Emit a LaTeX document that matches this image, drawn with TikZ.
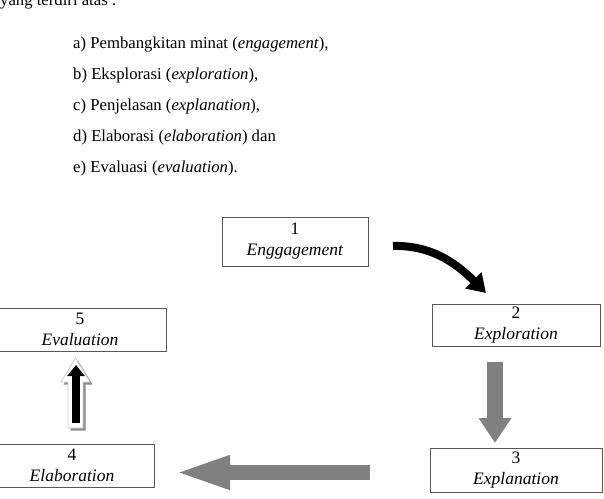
\documentclass[tikz,border=0pt]{standalone}
\usepackage{fontspec}
\setmainfont{Liberation Serif}
\usetikzlibrary{arrows.meta}
\begin{document}
\begin{tikzpicture}[x=1pt, y=-1pt, line join=miter,
	langkah/.style={draw=black!65, line width=0.9pt, fill=white, align=center, inner sep=0pt, font=\fontsize{17.5}{21}\selectfont},
	teks/.style={anchor=base west, inner sep=0pt, font=\fontsize{16.7}{19}\selectfont},
	panahabu/.style={black!50, line width=#1}]
	\useasboundingbox (0,0) rectangle (604,498);
	\clip (0,0) rectangle (604,498);
	\node[teks] (judul) at (0,5) {yang terdiri atas :};
	\foreach \isi [count=\i from 0] in {{a) Pembangkitan minat (\textit{engagement}),},
		{b) Eksplorasi (\textit{exploration}),},
		{c) Penjelasan (\textit{explanation}),},
		{d) Elaborasi (\textit{elaboration}) dan},
		{e) Evaluasi (\textit{evaluation}).}}
	\node[teks] (item\i) at (73,48+31*\i) {\isi};
	% kotak tahapan
	\node[langkah, minimum width=146, minimum height=49] (engage) at (295,241.5) {1\\\textit{Enggagement}};
	\node[langkah, minimum width=168, minimum height=42] (explore) at (516,325) {2\\\textit{Exploration}};
	\node[langkah, minimum width=172, minimum height=44] (explain) at (516,470) {3\\\textit{Explanation}};
	\node[langkah, minimum width=164, minimum height=43] (elab) at (72,465.5) {4\\\textit{Elaboration}};
	\node[langkah, minimum width=172, minimum height=43] (eval) at (80,329.5) {5\\\textit{Evaluation}};
	% panah
	\coordinate (p1a) at (393,246);
	\coordinate (p1b) at (486,293);
	\draw[line width=8, -{Triangle[width=22,length=18]}] (p1a) .. controls (430,245) and (455,262) .. (p1b);
	\coordinate (p2a) at (495,362);
	\coordinate (p2b) at (495,443);
	\draw[panahabu=16, -{Triangle[width=31,length=25]}] (p2a) -- (p2b);
	\coordinate (p3a) at (370,472.5);
	\coordinate (p3b) at (173,472.5);
	\draw[panahabu=15, -{Triangle[width=30,length=57]}] (p3a) -- (p3b);
	\fill[black!45, shift={(2.5,2.5)}] (68,428) -- (83,428) -- (83,382) -- (90,382) -- (75.5,358) -- (61,382) -- (68,382) -- cycle;
	\draw[fill=white, draw=black!20, line width=0.8pt] (68,428) -- (83,428) -- (83,382) -- (90,382) -- (75.5,358) -- (61,382) -- (68,382) -- cycle;
	\coordinate (p4a) at (76,423);
	\coordinate (p4b) at (76,365);
	\draw[line width=8, -{Triangle[width=17,length=11]}] (p4a) -- (p4b);
\end{tikzpicture}
\end{document}
